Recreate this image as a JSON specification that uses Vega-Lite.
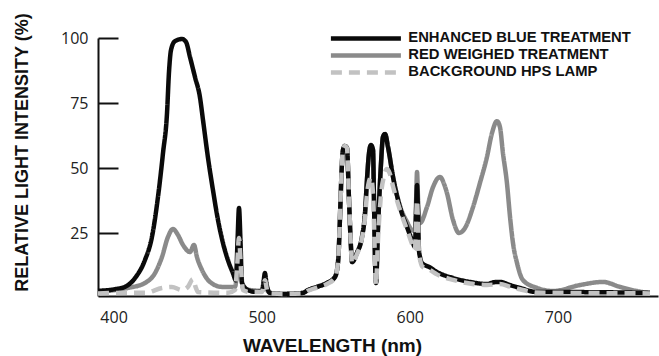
{
  "$schema": "https://vega.github.io/schema/vega-lite/v6.json",
  "autosize": "none",
  "padding": {"left": 98, "top": 38, "right": 1, "bottom": 60},
  "width": 560,
  "height": 258,
  "background": "white",
  "config": {"view": {"stroke": null}},
  "data": {"values": [
    {"s":"RED WEIGHED  TREATMENT","w":389.5,"v":2.5},{"s":"RED WEIGHED  TREATMENT","w":400,"v":3.2},{"s":"RED WEIGHED  TREATMENT","w":409.7,"v":4.1},{"s":"RED WEIGHED  TREATMENT","w":421.2,"v":6.0},{"s":"RED WEIGHED  TREATMENT","w":428.0,"v":9.8},{"s":"RED WEIGHED  TREATMENT","w":432.7,"v":16.0},{"s":"RED WEIGHED  TREATMENT","w":436.7,"v":23.6},{"s":"RED WEIGHED  TREATMENT","w":440.1,"v":26.7},{"s":"RED WEIGHED  TREATMENT","w":443.5,"v":24.4},{"s":"RED WEIGHED  TREATMENT","w":446.9,"v":20.6},{"s":"RED WEIGHED  TREATMENT","w":451.6,"v":17.9},{"s":"RED WEIGHED  TREATMENT","w":454.3,"v":20.6},{"s":"RED WEIGHED  TREATMENT","w":456.3,"v":16.0},{"s":"RED WEIGHED  TREATMENT","w":459.7,"v":11.0},{"s":"RED WEIGHED  TREATMENT","w":465.1,"v":6.4},{"s":"RED WEIGHED  TREATMENT","w":473.2,"v":4.5},{"s":"RED WEIGHED  TREATMENT","w":482.0,"v":4.5},{"s":"RED WEIGHED  TREATMENT","w":483.5,"v":12},{"s":"RED WEIGHED  TREATMENT","w":484.7,"v":23.3},{"s":"RED WEIGHED  TREATMENT","w":486.0,"v":12},{"s":"RED WEIGHED  TREATMENT","w":487.4,"v":4.0},{"s":"RED WEIGHED  TREATMENT","w":492.1,"v":3.3},{"s":"RED WEIGHED  TREATMENT","w":500.2,"v":3.0},{"s":"RED WEIGHED  TREATMENT","w":502.2,"v":7.5},{"s":"RED WEIGHED  TREATMENT","w":504.0,"v":3.0},{"s":"RED WEIGHED  TREATMENT","w":505.6,"v":2.2},{"s":"RED WEIGHED  TREATMENT","w":514.4,"v":1.8},{"s":"RED WEIGHED  TREATMENT","w":527.9,"v":2.2},{"s":"RED WEIGHED  TREATMENT","w":531.3,"v":3.3},{"s":"RED WEIGHED  TREATMENT","w":537.3,"v":4.5},{"s":"RED WEIGHED  TREATMENT","w":544.1,"v":6.0},{"s":"RED WEIGHED  TREATMENT","w":549.5,"v":8.3},{"s":"RED WEIGHED  TREATMENT","w":551.5,"v":13.7},{"s":"RED WEIGHED  TREATMENT","w":554.9,"v":57.0},{"s":"RED WEIGHED  TREATMENT","w":556.2,"v":58.6},{"s":"RED WEIGHED  TREATMENT","w":557.6,"v":57.8},{"s":"RED WEIGHED  TREATMENT","w":558.9,"v":39.0},{"s":"RED WEIGHED  TREATMENT","w":560.3,"v":19.8},{"s":"RED WEIGHED  TREATMENT","w":561.0,"v":14.0},{"s":"RED WEIGHED  TREATMENT","w":564.3,"v":17.5},{"s":"RED WEIGHED  TREATMENT","w":567.7,"v":23.6},{"s":"RED WEIGHED  TREATMENT","w":569.8,"v":32.8},{"s":"RED WEIGHED  TREATMENT","w":571.1,"v":45.5},{"s":"RED WEIGHED  TREATMENT","w":572.5,"v":55.9},{"s":"RED WEIGHED  TREATMENT","w":573.8,"v":58.9},{"s":"RED WEIGHED  TREATMENT","w":575.2,"v":57.0},{"s":"RED WEIGHED  TREATMENT","w":575.8,"v":39.0},{"s":"RED WEIGHED  TREATMENT","w":576.5,"v":16.0},{"s":"RED WEIGHED  TREATMENT","w":577.2,"v":6.0},{"s":"RED WEIGHED  TREATMENT","w":578.5,"v":26.3},{"s":"RED WEIGHED  TREATMENT","w":580.6,"v":52.0},{"s":"RED WEIGHED  TREATMENT","w":581.9,"v":62.0},{"s":"RED WEIGHED  TREATMENT","w":583.3,"v":63.2},{"s":"RED WEIGHED  TREATMENT","w":585.3,"v":58.2},{"s":"RED WEIGHED  TREATMENT","w":588.7,"v":46.7},{"s":"RED WEIGHED  TREATMENT","w":593.4,"v":35.5},{"s":"RED WEIGHED  TREATMENT","w":598.1,"v":29.5},{"s":"RED WEIGHED  TREATMENT","w":601.5,"v":26.3},{"s":"RED WEIGHED  TREATMENT","w":603.5,"v":26.0},{"s":"RED WEIGHED  TREATMENT","w":604.3,"v":38},{"s":"RED WEIGHED  TREATMENT","w":604.9,"v":48.6},{"s":"RED WEIGHED  TREATMENT","w":605.6,"v":38},{"s":"RED WEIGHED  TREATMENT","w":606.9,"v":29.0},{"s":"RED WEIGHED  TREATMENT","w":611.6,"v":35.1},{"s":"RED WEIGHED  TREATMENT","w":615.7,"v":42.8},{"s":"RED WEIGHED  TREATMENT","w":620.4,"v":46.7},{"s":"RED WEIGHED  TREATMENT","w":623.4,"v":43.6},{"s":"RED WEIGHED  TREATMENT","w":625.1,"v":40.5},{"s":"RED WEIGHED  TREATMENT","w":629.2,"v":30.2},{"s":"RED WEIGHED  TREATMENT","w":633.2,"v":25.2},{"s":"RED WEIGHED  TREATMENT","w":637.3,"v":27.1},{"s":"RED WEIGHED  TREATMENT","w":642.7,"v":35.1},{"s":"RED WEIGHED  TREATMENT","w":647.4,"v":44.4},{"s":"RED WEIGHED  TREATMENT","w":652.1,"v":54.3},{"s":"RED WEIGHED  TREATMENT","w":655.5,"v":63.5},{"s":"RED WEIGHED  TREATMENT","w":658.9,"v":68.1},{"s":"RED WEIGHED  TREATMENT","w":660.9,"v":65.8},{"s":"RED WEIGHED  TREATMENT","w":662.9,"v":55.9},{"s":"RED WEIGHED  TREATMENT","w":665.6,"v":44.4},{"s":"RED WEIGHED  TREATMENT","w":667.7,"v":31.3},{"s":"RED WEIGHED  TREATMENT","w":669.7,"v":21.3},{"s":"RED WEIGHED  TREATMENT","w":672.4,"v":13.7},{"s":"RED WEIGHED  TREATMENT","w":676.4,"v":7.1},{"s":"RED WEIGHED  TREATMENT","w":685.9,"v":4.1},{"s":"RED WEIGHED  TREATMENT","w":696.7,"v":2.9},{"s":"RED WEIGHED  TREATMENT","w":714.9,"v":5.2},{"s":"RED WEIGHED  TREATMENT","w":730.4,"v":6.4},{"s":"RED WEIGHED  TREATMENT","w":741.9,"v":4.5},{"s":"RED WEIGHED  TREATMENT","w":753.4,"v":2.9},{"s":"RED WEIGHED  TREATMENT","w":760.8,"v":2.2},

    {"s":"ENHANCED BLUE TREATMENT","w":389.5,"v":3.0},{"s":"ENHANCED BLUE TREATMENT","w":400.9,"v":3.6},{"s":"ENHANCED BLUE TREATMENT","w":407.7,"v":4.5},{"s":"ENHANCED BLUE TREATMENT","w":414.5,"v":7.9},{"s":"ENHANCED BLUE TREATMENT","w":421.2,"v":14.8},{"s":"ENHANCED BLUE TREATMENT","w":425.9,"v":23.6},{"s":"ENHANCED BLUE TREATMENT","w":430.0,"v":39.0},{"s":"ENHANCED BLUE TREATMENT","w":433.4,"v":55.9},{"s":"ENHANCED BLUE TREATMENT","w":436.1,"v":71.2},{"s":"ENHANCED BLUE TREATMENT","w":437.4,"v":86.6},{"s":"ENHANCED BLUE TREATMENT","w":438.8,"v":95.4},{"s":"ENHANCED BLUE TREATMENT","w":441.5,"v":98.8},{"s":"ENHANCED BLUE TREATMENT","w":446.2,"v":99.6},{"s":"ENHANCED BLUE TREATMENT","w":448.9,"v":98.5},{"s":"ENHANCED BLUE TREATMENT","w":451.6,"v":92.7},{"s":"ENHANCED BLUE TREATMENT","w":455.0,"v":85.0},{"s":"ENHANCED BLUE TREATMENT","w":458.3,"v":77.4},{"s":"ENHANCED BLUE TREATMENT","w":460.4,"v":68.5},{"s":"ENHANCED BLUE TREATMENT","w":463.7,"v":54.3},{"s":"ENHANCED BLUE TREATMENT","w":467.1,"v":41.7},{"s":"ENHANCED BLUE TREATMENT","w":470.5,"v":30.2},{"s":"ENHANCED BLUE TREATMENT","w":473.9,"v":21.3},{"s":"ENHANCED BLUE TREATMENT","w":477.2,"v":14.8},{"s":"ENHANCED BLUE TREATMENT","w":480.6,"v":9.8},{"s":"ENHANCED BLUE TREATMENT","w":482.6,"v":7.0},{"s":"ENHANCED BLUE TREATMENT","w":483.7,"v":22},{"s":"ENHANCED BLUE TREATMENT","w":484.7,"v":34.8},{"s":"ENHANCED BLUE TREATMENT","w":485.7,"v":22},{"s":"ENHANCED BLUE TREATMENT","w":486.7,"v":6.0},{"s":"ENHANCED BLUE TREATMENT","w":490.8,"v":3.3},{"s":"ENHANCED BLUE TREATMENT","w":495.5,"v":2.6},{"s":"ENHANCED BLUE TREATMENT","w":500.2,"v":2.9},{"s":"ENHANCED BLUE TREATMENT","w":501.2,"v":6},{"s":"ENHANCED BLUE TREATMENT","w":502.2,"v":9.8},{"s":"ENHANCED BLUE TREATMENT","w":503.2,"v":6},{"s":"ENHANCED BLUE TREATMENT","w":505.6,"v":2.2},{"s":"ENHANCED BLUE TREATMENT","w":514.4,"v":1.8},{"s":"ENHANCED BLUE TREATMENT","w":527.9,"v":2.2},{"s":"ENHANCED BLUE TREATMENT","w":531.3,"v":3.3},{"s":"ENHANCED BLUE TREATMENT","w":537.3,"v":4.5},{"s":"ENHANCED BLUE TREATMENT","w":544.1,"v":6.0},{"s":"ENHANCED BLUE TREATMENT","w":549.5,"v":8.3},{"s":"ENHANCED BLUE TREATMENT","w":551.5,"v":13.7},{"s":"ENHANCED BLUE TREATMENT","w":554.9,"v":57.0},{"s":"ENHANCED BLUE TREATMENT","w":556.2,"v":58.6},{"s":"ENHANCED BLUE TREATMENT","w":557.6,"v":57.8},{"s":"ENHANCED BLUE TREATMENT","w":558.9,"v":39.0},{"s":"ENHANCED BLUE TREATMENT","w":560.3,"v":19.8},{"s":"ENHANCED BLUE TREATMENT","w":561.0,"v":14.0},{"s":"ENHANCED BLUE TREATMENT","w":564.3,"v":17.5},{"s":"ENHANCED BLUE TREATMENT","w":567.7,"v":23.6},{"s":"ENHANCED BLUE TREATMENT","w":569.8,"v":32.8},{"s":"ENHANCED BLUE TREATMENT","w":571.1,"v":45.5},{"s":"ENHANCED BLUE TREATMENT","w":572.5,"v":55.9},{"s":"ENHANCED BLUE TREATMENT","w":573.8,"v":58.9},{"s":"ENHANCED BLUE TREATMENT","w":575.2,"v":57.0},{"s":"ENHANCED BLUE TREATMENT","w":575.8,"v":39.0},{"s":"ENHANCED BLUE TREATMENT","w":576.5,"v":16.0},{"s":"ENHANCED BLUE TREATMENT","w":577.2,"v":6.0},{"s":"ENHANCED BLUE TREATMENT","w":578.5,"v":26.3},{"s":"ENHANCED BLUE TREATMENT","w":580.6,"v":52.0},{"s":"ENHANCED BLUE TREATMENT","w":581.9,"v":62.0},{"s":"ENHANCED BLUE TREATMENT","w":583.3,"v":63.2},{"s":"ENHANCED BLUE TREATMENT","w":585.3,"v":58.2},{"s":"ENHANCED BLUE TREATMENT","w":588.7,"v":46.7},{"s":"ENHANCED BLUE TREATMENT","w":593.4,"v":35.1},{"s":"ENHANCED BLUE TREATMENT","w":598.1,"v":27.5},{"s":"ENHANCED BLUE TREATMENT","w":601.5,"v":22.5},{"s":"ENHANCED BLUE TREATMENT","w":603.5,"v":19.8},{"s":"ENHANCED BLUE TREATMENT","w":604.2,"v":32},{"s":"ENHANCED BLUE TREATMENT","w":604.9,"v":43.6},{"s":"ENHANCED BLUE TREATMENT","w":605.6,"v":32},{"s":"ENHANCED BLUE TREATMENT","w":606.2,"v":18.7},{"s":"ENHANCED BLUE TREATMENT","w":606.9,"v":16.0},{"s":"ENHANCED BLUE TREATMENT","w":608.2,"v":13.7},{"s":"ENHANCED BLUE TREATMENT","w":613.6,"v":12.0},{"s":"ENHANCED BLUE TREATMENT","w":618.4,"v":10.2},{"s":"ENHANCED BLUE TREATMENT","w":629.2,"v":7.9},{"s":"ENHANCED BLUE TREATMENT","w":640.6,"v":6.4},{"s":"ENHANCED BLUE TREATMENT","w":652.1,"v":5.6},{"s":"ENHANCED BLUE TREATMENT","w":657.0,"v":6.3},{"s":"ENHANCED BLUE TREATMENT","w":660.9,"v":6.4},{"s":"ENHANCED BLUE TREATMENT","w":667.7,"v":5.2},{"s":"ENHANCED BLUE TREATMENT","w":674.4,"v":4.1},{"s":"ENHANCED BLUE TREATMENT","w":685.9,"v":2.5},{"s":"ENHANCED BLUE TREATMENT","w":708.2,"v":2.5},{"s":"ENHANCED BLUE TREATMENT","w":762.2,"v":2.2},

    {"s":"BACKGROUND HPS LAMP","w":389.5,"v":2.0},{"s":"BACKGROUND HPS LAMP","w":410.0,"v":2.2},{"s":"BACKGROUND HPS LAMP","w":421.2,"v":2.2},{"s":"BACKGROUND HPS LAMP","w":432.7,"v":4.1},{"s":"BACKGROUND HPS LAMP","w":439.4,"v":4.5},{"s":"BACKGROUND HPS LAMP","w":446.2,"v":3.3},{"s":"BACKGROUND HPS LAMP","w":450.2,"v":4.5},{"s":"BACKGROUND HPS LAMP","w":453.6,"v":7.5},{"s":"BACKGROUND HPS LAMP","w":455.6,"v":4.1},{"s":"BACKGROUND HPS LAMP","w":457.0,"v":2.5},{"s":"BACKGROUND HPS LAMP","w":477.2,"v":2.2},{"s":"BACKGROUND HPS LAMP","w":482.0,"v":3.3},{"s":"BACKGROUND HPS LAMP","w":483.4,"v":12},{"s":"BACKGROUND HPS LAMP","w":484.7,"v":23.3},{"s":"BACKGROUND HPS LAMP","w":486.0,"v":12},{"s":"BACKGROUND HPS LAMP","w":487.4,"v":3.3},{"s":"BACKGROUND HPS LAMP","w":492.1,"v":2.5},{"s":"BACKGROUND HPS LAMP","w":500.2,"v":2.5},{"s":"BACKGROUND HPS LAMP","w":502.2,"v":7.0},{"s":"BACKGROUND HPS LAMP","w":504.0,"v":2.5},{"s":"BACKGROUND HPS LAMP","w":505.6,"v":2.0},{"s":"BACKGROUND HPS LAMP","w":514.4,"v":1.8},{"s":"BACKGROUND HPS LAMP","w":527.9,"v":2.0},{"s":"BACKGROUND HPS LAMP","w":531.3,"v":3.0},{"s":"BACKGROUND HPS LAMP","w":537.3,"v":4.2},{"s":"BACKGROUND HPS LAMP","w":544.1,"v":5.6},{"s":"BACKGROUND HPS LAMP","w":549.5,"v":8.0},{"s":"BACKGROUND HPS LAMP","w":551.5,"v":13.7},{"s":"BACKGROUND HPS LAMP","w":554.9,"v":57.0},{"s":"BACKGROUND HPS LAMP","w":556.2,"v":58.6},{"s":"BACKGROUND HPS LAMP","w":557.6,"v":57.8},{"s":"BACKGROUND HPS LAMP","w":558.9,"v":39.0},{"s":"BACKGROUND HPS LAMP","w":560.3,"v":19.8},{"s":"BACKGROUND HPS LAMP","w":561.0,"v":13.5},{"s":"BACKGROUND HPS LAMP","w":564.3,"v":17.0},{"s":"BACKGROUND HPS LAMP","w":567.7,"v":23.0},{"s":"BACKGROUND HPS LAMP","w":569.8,"v":31.0},{"s":"BACKGROUND HPS LAMP","w":571.1,"v":40.0},{"s":"BACKGROUND HPS LAMP","w":572.5,"v":45.0},{"s":"BACKGROUND HPS LAMP","w":573.8,"v":46.5},{"s":"BACKGROUND HPS LAMP","w":575.2,"v":40.0},{"s":"BACKGROUND HPS LAMP","w":575.8,"v":30.0},{"s":"BACKGROUND HPS LAMP","w":576.5,"v":14.0},{"s":"BACKGROUND HPS LAMP","w":577.2,"v":5.2},{"s":"BACKGROUND HPS LAMP","w":578.5,"v":22.0},{"s":"BACKGROUND HPS LAMP","w":580.6,"v":40.0},{"s":"BACKGROUND HPS LAMP","w":582.6,"v":47.0},{"s":"BACKGROUND HPS LAMP","w":584.6,"v":49.7},{"s":"BACKGROUND HPS LAMP","w":586.5,"v":48.0},{"s":"BACKGROUND HPS LAMP","w":588.7,"v":43.0},{"s":"BACKGROUND HPS LAMP","w":593.4,"v":34.0},{"s":"BACKGROUND HPS LAMP","w":598.1,"v":26.5},{"s":"BACKGROUND HPS LAMP","w":601.5,"v":21.0},{"s":"BACKGROUND HPS LAMP","w":603.5,"v":18.5},{"s":"BACKGROUND HPS LAMP","w":604.2,"v":28},{"s":"BACKGROUND HPS LAMP","w":604.9,"v":37.8},{"s":"BACKGROUND HPS LAMP","w":605.6,"v":28},{"s":"BACKGROUND HPS LAMP","w":606.2,"v":17},{"s":"BACKGROUND HPS LAMP","w":606.9,"v":15},{"s":"BACKGROUND HPS LAMP","w":608.2,"v":12.5},{"s":"BACKGROUND HPS LAMP","w":613.6,"v":11.0},{"s":"BACKGROUND HPS LAMP","w":618.4,"v":9.3},{"s":"BACKGROUND HPS LAMP","w":629.2,"v":7.2},{"s":"BACKGROUND HPS LAMP","w":640.6,"v":5.8},{"s":"BACKGROUND HPS LAMP","w":652.1,"v":5.2},{"s":"BACKGROUND HPS LAMP","w":660.9,"v":5.6},{"s":"BACKGROUND HPS LAMP","w":667.7,"v":4.6},{"s":"BACKGROUND HPS LAMP","w":674.4,"v":3.6},{"s":"BACKGROUND HPS LAMP","w":685.9,"v":2.3},{"s":"BACKGROUND HPS LAMP","w":708.2,"v":2.2},{"s":"BACKGROUND HPS LAMP","w":762.2,"v":2.0}
  ]},
  "mark": {"type": "line", "strokeJoin": "round", "strokeCap": "butt", "interpolate": "monotone"},
  "encoding": {
    "x": {
      "field": "w", "type": "quantitative",
      "scale": {"domain": [389.5, 767.6], "nice": false, "zero": false},
      "axis": {
        "values": [400, 500, 600, 700], "ticks": false, "grid": false,
        "domainColor": "#111", "domainWidth": 2,
        "labelFont": "Open Sans", "labelFontSize": 16, "labelColor": "#222", "labelPadding": 13,
        "title": "WAVELENGTH (nm)", "titleFont": "Liberation Sans", "titleFontWeight": "bold", "titleFontSize": 19, "titleColor": "#111",
        "titleX": 234, "titleY": 49, "titleAlign": "center", "titleBaseline": "middle"
      }
    },
    "y": {
      "field": "v", "type": "quantitative",
      "scale": {"domain": [1, 100], "nice": false, "zero": false},
      "axis": {
        "values": [25, 50, 75, 100], "grid": false,
        "domainColor": "#111", "domainWidth": 2,
        "tickColor": "#111", "tickWidth": 2, "tickSize": -20,
        "labelFont": "Open Sans", "labelFontSize": 16, "labelColor": "#222", "labelPadding": 30,
        "title": "RELATIVE LIGHT INTENSITY (%)", "titleFont": "Liberation Sans", "titleFontWeight": "bold", "titleFontSize": 18, "titleColor": "#111",
        "titleX": -76, "titleY": 114, "titleAlign": "center", "titleBaseline": "middle", "titleAngle": -90
      }
    },
    "color": {
      "field": "s", "type": "nominal",
      "scale": {"domain": ["ENHANCED BLUE TREATMENT", "RED WEIGHED  TREATMENT", "BACKGROUND HPS LAMP"], "range": ["#0a0a0a", "#8a8a8a", "#c2c2c2"]},
      "legend": {
        "orient": "none", "legendX": 260.5, "legendY": -7, "title": null, "padding": 0, "rowPadding": -6,
        "symbolType": "M-14,0H14", "symbolSize": 25, "symbolStrokeWidth": 5, "labelOffset": 35, "labelLimit": 0,
        "labelFont": "Liberation Sans", "labelFontWeight": "bold", "labelFontSize": 14.8, "labelColor": "#111"
      }
    },
    "strokeDash": {
      "field": "s", "type": "nominal",
      "scale": {"domain": ["ENHANCED BLUE TREATMENT", "RED WEIGHED  TREATMENT", "BACKGROUND HPS LAMP"], "range": [[1, 0], [1, 0], [11, 7]]}
    },
    "strokeWidth": {
      "field": "s", "type": "ordinal",
      "scale": {"domain": ["ENHANCED BLUE TREATMENT", "RED WEIGHED  TREATMENT", "BACKGROUND HPS LAMP"], "range": [4.5, 4.5, 5.5]}
    }
  }
}
